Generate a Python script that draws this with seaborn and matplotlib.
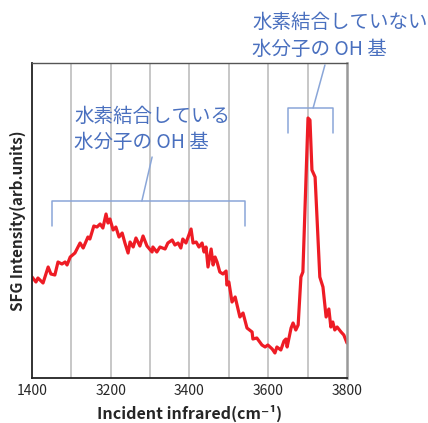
import matplotlib
matplotlib.use("Agg")
import matplotlib.pyplot as plt
import seaborn as sns
import pandas as pd

# spectrum (wavenumber, arb. intensity)
wavenumber = [3000, 3010, 3015, 3028, 3041, 3048, 3058, 3066, 3076, 3084, 3089, 3097,
              3109, 3122, 3130, 3142, 3147, 3157, 3165, 3173, 3180, 3188, 3193, 3198,
              3206, 3213, 3221, 3229, 3236, 3244, 3249, 3257, 3264, 3274, 3282, 3292,
              3305, 3307, 3317, 3325, 3338, 3345, 3356, 3363, 3371, 3378, 3383, 3391,
              3404, 3409, 3417, 3424, 3432, 3437, 3442, 3447, 3455, 3460, 3465, 3470,
              3477, 3485, 3493, 3495, 3500, 3508, 3516, 3528, 3536, 3546, 3559, 3561,
              3571, 3584, 3592, 3599, 3610, 3617, 3622, 3632, 3640, 3645, 3648, 3658,
              3663, 3670, 3676, 3683, 3688, 3701, 3706, 3711, 3719, 3731, 3739, 3747,
              3754, 3759, 3764, 3769, 3775, 3785, 3792, 3800]
intensity = [101, 96, 100, 95, 111, 104, 103, 116, 114, 116, 113, 121,
             125, 135, 130, 141, 139, 152, 151, 154, 150, 164, 155, 159,
             148, 151, 141, 145, 135, 125, 136, 131, 140, 132, 142, 132,
             126, 131, 126, 131, 129, 135, 138, 133, 135, 130, 139, 135,
             149, 135, 136, 131, 135, 126, 131, 111, 129, 113, 121, 116,
             106, 104, 107, 93, 96, 76, 81, 61, 65, 50, 46, 39,
             40, 33, 31, 33, 29, 25, 31, 28, 37, 39, 31, 50,
             55, 48, 53, 101, 106, 260, 258, 208, 201, 101, 91, 61,
             69, 51, 56, 48, 51, 46, 43, 35]

tick_pos = [3000, 3100, 3200, 3300, 3400, 3500, 3600, 3700, 3800]
tick_labels = ["1400", "", "3200", "", "3400", "", "3600", "", "3800"]

bonded_text = ["水素結合している", "水分子の OH 基"]
free_text = ["水素結合していない", "水分子の OH 基"]

sns.set_style("white")
plt.rcParams['font.family'] = ['Noto Sans CJK JP', 'DejaVu Sans']

df = pd.DataFrame({"wn": wavenumber, "I": intensity})

fig = plt.figure(figsize=(4.28, 4.23), dpi=100)
ax = fig.add_axes([0.0748, 0.1064, 0.7359, 0.7446])

for t in tick_pos[1:-1]:
    ax.axvline(t, color="#bdbdbd", lw=1.2, zorder=0)

sns.lineplot(data=df, x="wn", y="I", ax=ax, color="#ee1c25", lw=2.3)

ax.set_xlim(3000, 3800)
ax.set_ylim(0, 315)
ax.set_xticks(tick_pos)
ax.set_xticklabels(tick_labels, fontsize=10)
ax.set_yticks([])
ax.tick_params(axis="x", direction="in", length=4, width=1.2, color="#444444", pad=4)
ax.set_xlabel("Incident infrared(cm⁻¹)", fontsize=11.5, fontweight="bold", labelpad=5)
ax.set_ylabel("SFG Intensity(arb.units)", fontsize=11, fontweight="bold", labelpad=4)

ax.spines["left"].set_color("#222222")
ax.spines["left"].set_linewidth(1.3)
ax.spines["bottom"].set_color("#222222")
ax.spines["bottom"].set_linewidth(1.3)
ax.spines["top"].set_color("#555555")
ax.spines["top"].set_linewidth(1.0)
ax.spines["right"].set_color("#999999")
ax.spines["right"].set_linewidth(1.8)

bc = "#8aa6d8"
tc = "#4a70bf"
# bonded OH bracket
ax.plot([3051, 3051, 3541, 3541], [152, 177, 177, 152], color=bc, lw=1.1, clip_on=False)
ax.plot([3279, 3305], [177, 221], color=bc, lw=1.1, clip_on=False)
ax.text(3107, 262, bonded_text[0], color=tc, fontsize=14, va="center", ha="left")
ax.text(3107, 236, bonded_text[1], color=tc, fontsize=14, va="center", ha="left")
# free OH bracket
ax.plot([3650, 3650, 3764, 3764], [245, 270, 270, 245], color=bc, lw=1.1, clip_on=False)
ax.plot([3714, 3744], [270, 313], color=bc, lw=1.1, clip_on=False)
ax.text(3559, 356, free_text[0], color=tc, fontsize=14, va="center", ha="left", clip_on=False)
ax.text(3559, 329, free_text[1], color=tc, fontsize=14, va="center", ha="left", clip_on=False)

fig.savefig("out.png", dpi=100)
